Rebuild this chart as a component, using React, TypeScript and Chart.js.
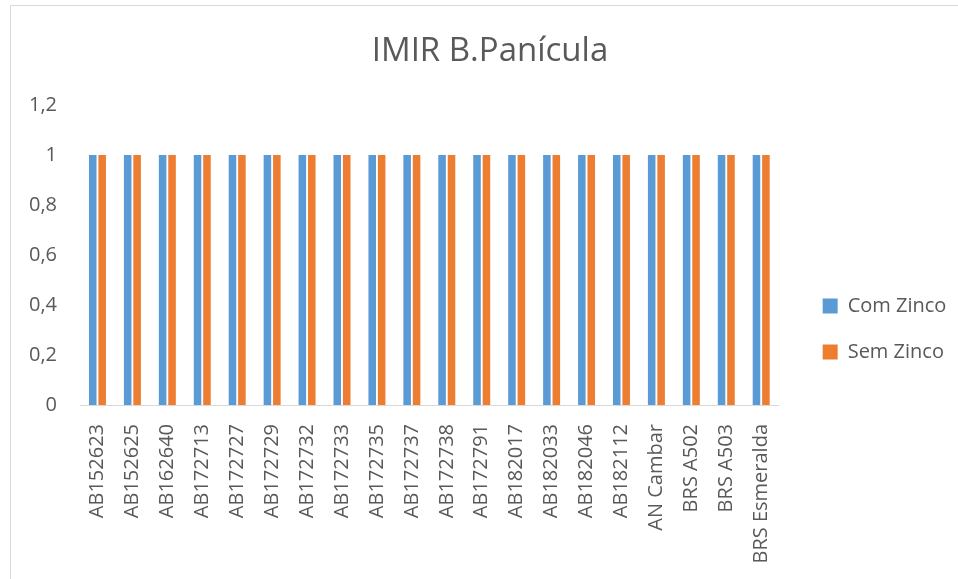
import React, { useEffect, useRef } from "react";
import { Chart, registerables } from "chart.js";

Chart.register(...registerables);

const categories = [
  "AB152623", "AB152625", "AB162640", "AB172713", "AB172727", "AB172729",
  "AB172732", "AB172733", "AB172735", "AB172737", "AB172738", "AB172791",
  "AB182017", "AB182033", "AB182046", "AB182112", "AN Cambar", "BRS A502",
  "BRS A503", "BRS Esmeralda",
];
const comZinco = [1, 1, 1, 1, 1, 1, 1, 1, 1, 1, 1, 1, 1, 1, 1, 1, 1, 1, 1, 1];
const semZinco = [1, 1, 1, 1, 1, 1, 1, 1, 1, 1, 1, 1, 1, 1, 1, 1, 1, 1, 1, 1];
const seriesNames = ["Com Zinco", "Sem Zinco"];
const yTickLabels = ["0", "0,2", "0,4", "0,6", "0,8", "1", "1,2"];
const chartTitle = "IMIR B.Panícula";

const FONT = "'Open Sans', 'Noto Sans', 'DejaVu Sans', sans-serif";
const TEXT = "#595959";

export default function App() {
  const ref = useRef<HTMLCanvasElement | null>(null);
  useEffect(() => {
    if (!ref.current) return;
    const framePlugin = {
      id: "frame",
      beforeDraw(chart: any) {
        const ctx = chart.ctx;
        ctx.save();
        ctx.fillStyle = "#ffffff";
        ctx.fillRect(0, 0, chart.width, chart.height);
        ctx.strokeStyle = "#d9d9d9";
        ctx.lineWidth = 1;
        ctx.beginPath();
        ctx.moveTo(10.5, chart.height);
        ctx.lineTo(10.5, 5.5);
        ctx.lineTo(chart.width, 5.5);
        ctx.stroke();
        ctx.restore();
      },
    };
    const chart = new Chart(ref.current, {
      type: "bar",
      data: {
        labels: categories,
        datasets: [
          {
            label: seriesNames[0],
            data: comZinco,
            backgroundColor: "#5B9BD5",
            borderWidth: 0,
          },
          {
            label: seriesNames[1],
            data: semZinco,
            backgroundColor: "#ED7D31",
            borderWidth: 0,
          },
        ],
      },
      options: {
        animation: false,
        responsive: false,
        maintainAspectRatio: false,
        layout: { padding: { left: 30, right: 8, top: 0, bottom: 0 } },
        datasets: {
          bar: { categoryPercentage: 0.54, barPercentage: 0.8 },
        },
        plugins: {
          title: {
            display: true,
            text: chartTitle,
            color: TEXT,
            font: { family: FONT, size: 33, weight: "normal" },
            padding: { top: 32, bottom: 33.4 },
          },
          legend: {
            display: true,
            position: "right",
            align: "center",
            title: {
              display: true,
              text: "",
              font: { size: 10, lineHeight: 1 },
              padding: { top: 69, bottom: 0 },
            },
            labels: {
              color: TEXT,
              font: { family: FONT, size: 20 },
              boxWidth: 15,
              boxHeight: 15,
              padding: 26,
            },
          },
          tooltip: { enabled: false },
        },
        scales: {
          x: {
            grid: { display: false, drawTicks: false },
            border: { display: true, color: "#d9d9d9", width: 1 },
            ticks: {
              color: TEXT,
              font: { family: FONT, size: 20 },
              autoSkip: false,
              maxRotation: 90,
              minRotation: 90,
              padding: 19,
            },
            afterFit: (s: any) => {
              s.height = 174;
            },
          },
          y: {
            min: 0,
            max: 1.2,
            grid: { display: false, drawTicks: false },
            border: { display: false },
            ticks: {
              stepSize: 0.2,
              color: TEXT,
              font: { family: FONT, size: 20 },
              padding: 23,
              callback: (_v: any, i: number) => yTickLabels[i],
            },
            afterFit: (s: any) => {
              s.width = 50;
            },
          },
          gap: {
            type: "linear",
            position: "right",
            display: true,
            grid: { display: false, drawTicks: false },
            border: { display: false },
            ticks: { display: false },
            afterFit: (s: any) => {
              s.width = 18;
            },
          },
        },
      },
      plugins: [framePlugin],
    } as any);
    return () => chart.destroy();
  }, []);
  return (
    <canvas
      ref={ref}
      width={958}
      height={579}
      style={{ position: "fixed", left: 0, top: 0, width: 958, height: 579 }}
    />
  );
}
